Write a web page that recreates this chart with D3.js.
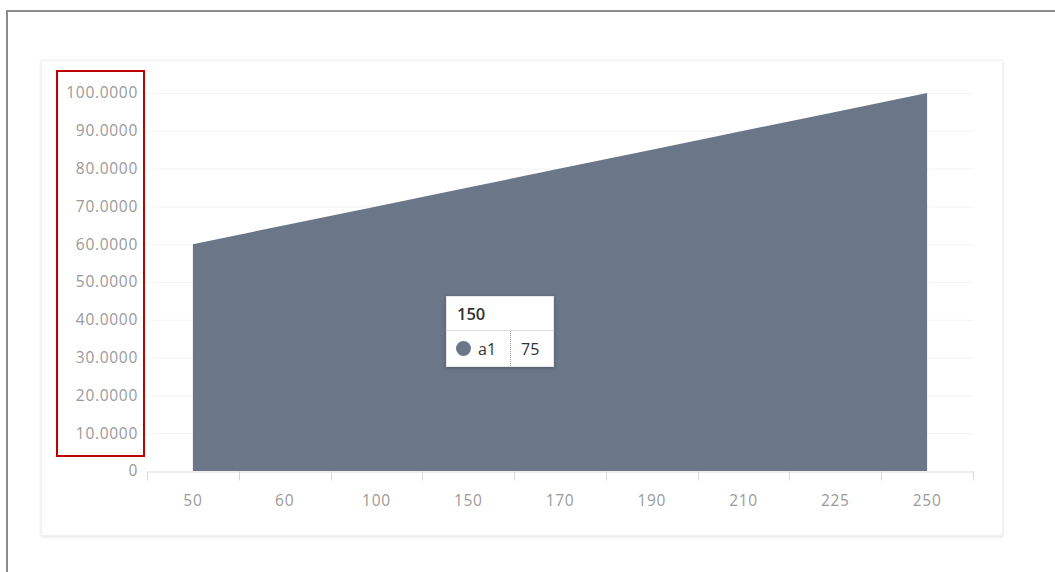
<!DOCTYPE html>
<html lang="en">
<head>
  <meta charset="UTF-8">
  <title>Area chart</title>
  <script src="https://d3js.org/d3.v7.min.js"></script>
  <style>
    body {
      margin: 0;
      width: 1055px;
      height: 572px;
      overflow: hidden;
      background: #fff;
      font-family: "Open Sans", Arial, sans-serif;
    }
    .frame {
      position: absolute;
      left: 6px;
      top: 10px;
      width: 1100px;
      height: 600px;
      border-left: 2px solid #8c8c8c;
      border-top: 2px solid #8c8c8c;
    }
    .card {
      position: absolute;
      left: 41px;
      top: 60px;
      width: 962px;
      height: 476px;
      background: #fff;
      box-shadow: 0 1px 3px rgba(0,0,0,0.12);
      border: 1px solid #f2f2f2;
      box-sizing: border-box;
    }
    svg { position: absolute; left: 0; top: 0; }
    .tick text {
      fill: #9a9a9a;
      font-size: 15.5px;
      letter-spacing: 0.7px;
      font-family: "Open Sans", Arial, sans-serif;
    }
    .tooltip {
      position: absolute;
      left: 446px;
      top: 296px;
      width: 108px;
      background: #fff;
      border: 1px solid #e8e8e8;
      box-shadow: 0 1px 4px rgba(0,0,0,0.25);
      font-size: 16px;
      color: #333;
      box-sizing: border-box;
    }
    .tooltip .head {
      font-weight: 600;
      padding: 5px 10px 5px;
      border-bottom: 1px solid #ddd;
      font-size: 16.5px;
      height: 34px;
      box-sizing: border-box;
    }
    .tooltip .row { display: flex; height: 35px; align-items: center; }
    .tooltip .name { display: flex; align-items: center; padding: 0 14px 0 9px; height: 100%; border-right: 1px dotted #999; }
    .tooltip .dot { width: 15px; height: 15px; border-radius: 50%; margin-right: 7px; }
    .tooltip .val { padding-left: 10px; }
  </style>
</head>
<body>
  <div class="frame"></div>
  <div class="card"></div>
  <svg id="chart" width="1055" height="572"></svg>
  <div class="tooltip" id="tooltip"></div>

  <script>
    // data
    const categories = ["50", "60", "100", "150", "170", "190", "210", "225", "250"];
    const values = [60, 65, 70, 75, 80, 85, 90, 95, 100];
    const yTicks = [0, 10, 20, 30, 40, 50, 60, 70, 80, 90, 100];
    const seriesName = "a1";
    const hoverIndex = 3;

    const areaColor = "#6b7789";
    const plotLeft = 147, plotRight = 973, plotTop = 93, plotBottom = 471;

    const svg = d3.select("#chart");

    const x = d3.scaleBand()
      .domain(categories)
      .range([plotLeft, plotRight]);

    const y = d3.scaleLinear()
      .domain([0, 100])
      .range([plotBottom, plotTop]);

    // grid lines
    svg.append("g")
      .selectAll("line")
      .data(yTicks.slice(1))
      .enter()
      .append("line")
      .attr("x1", plotLeft)
      .attr("x2", plotRight)
      .attr("y1", d => y(d) + 0.5)
      .attr("y2", d => y(d) + 0.5)
      .attr("stroke", "#f3f3f3");

    // area
    const area = d3.area()
      .x((d, i) => x(categories[i]) + x.bandwidth() / 2)
      .y0(y(0))
      .y1(d => y(d));

    svg.append("path")
      .datum(values)
      .attr("fill", areaColor)
      .attr("d", area);

    // y axis
    const yAxis = svg.append("g")
      .attr("transform", `translate(${plotLeft - 9},0)`)
      .call(d3.axisLeft(y)
        .tickValues(yTicks)
        .tickSize(0)
        .tickPadding(0)
        .tickFormat(d => d === 0 ? "0" : d3.format(".4f")(d)));
    yAxis.select(".domain").remove();

    // x axis
    const xAxis = svg.append("g")
      .attr("transform", `translate(0,${plotBottom + 0.5})`)
      .call(d3.axisBottom(x).tickSize(0).tickPadding(23));
    xAxis.select(".domain").attr("stroke", "#ddd");

    // tick marks at band edges
    const edges = categories.map(c => x(c)).concat([x.range()[1]]);
    xAxis.append("g")
      .selectAll("line")
      .data(edges)
      .enter()
      .append("line")
      .attr("x1", d => Math.round(d) + 0.5)
      .attr("x2", d => Math.round(d) + 0.5)
      .attr("y1", 0)
      .attr("y2", 9)
      .attr("stroke", "#d6d6d6");

    // red highlight box around y labels
    svg.append("rect")
      .attr("x", 57)
      .attr("y", 71)
      .attr("width", 87)
      .attr("height", 385)
      .attr("fill", "none")
      .attr("stroke", "#c00000")
      .attr("stroke-width", 2);

    // tooltip
    const tip = d3.select("#tooltip");
    tip.append("div").attr("class", "head").text(categories[hoverIndex]);
    const row = tip.append("div").attr("class", "row");
    const name = row.append("div").attr("class", "name");
    name.append("span").attr("class", "dot").style("background", areaColor);
    name.append("span").text(seriesName);
    row.append("div").attr("class", "val").text(values[hoverIndex]);
  </script>
</body>
</html>
